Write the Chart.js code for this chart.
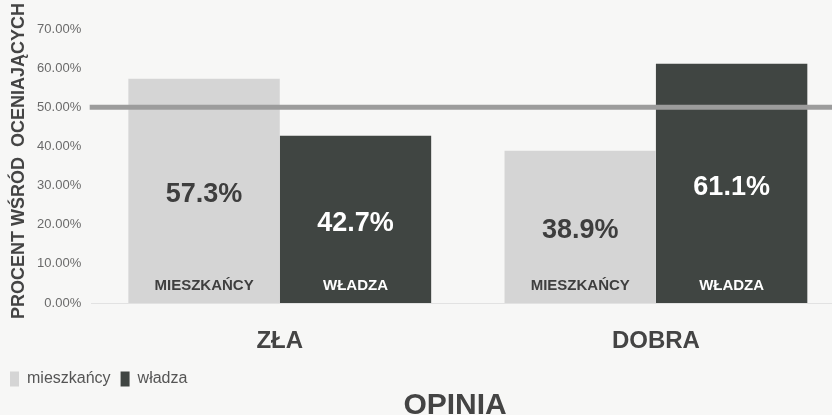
<!DOCTYPE html>
<html>
<head>
<meta charset="utf-8">
<script src="https://cdn.jsdelivr.net/npm/chart.js@4"></script>
<style>
  html, body { margin: 0; padding: 0; background: #f7f7f6; overflow: hidden; }
  #wrap { width: 844px; height: 415px; position: relative; }
</style>
</head>
<body>
<div id="wrap"><canvas id="opinia"></canvas></div>
<script>
// data
var categories = ['ZŁA', 'DOBRA'];
var seriesNames = ['mieszkańcy', 'władza'];
var barTags = ['MIESZKAŃCY', 'WŁADZA'];
var mieszkancy = [57.3, 38.9];
var wladza = [42.7, 61.1];
var refLine = 50;
var yTicksMax = 70;

var FONT = '"Liberation Sans", Arial, sans-serif';
var barColors = ['#d5d5d5', '#404542'];
var textColors = ['#3e3e3e', '#ffffff'];

const barLabels = {
  id: 'barLabels',
  afterLayout(chart) {
    // pull the legend up, closer to the category labels
    chart.legend.top -= 18;
    chart.legend.bottom -= 18;
  },
  afterDatasetsDraw(chart) {
    const ctx = chart.ctx;
    const area = chart.chartArea;
    const y50 = chart.scales.y.getPixelForValue(refLine);
    ctx.save();
    // grey 50% line
    ctx.strokeStyle = '#9c9c9c';
    ctx.lineWidth = 5;
    ctx.beginPath();
    ctx.moveTo(area.left - 2, y50);
    ctx.lineTo(chart.width, y50);
    ctx.stroke();

    ctx.textAlign = 'center';
    ctx.textBaseline = 'middle';
    chart.data.datasets.forEach((ds, di) => {
      chart.getDatasetMeta(di).data.forEach((bar, i) => {
        ctx.fillStyle = textColors[di];
        ctx.font = 'bold 27px ' + FONT;
        ctx.fillText(ds.data[i].toFixed(1) + '%', bar.x, (bar.y + bar.base) / 2 + 4);
        ctx.font = 'bold 15px ' + FONT;
        ctx.fillText(barTags[di], bar.x, bar.base - 17.5);
      });
    });

    // axis caption at the bottom
    ctx.fillStyle = '#444';
    ctx.font = 'bold 30px ' + FONT;
    ctx.fillText('OPINIA', area.left + (area.right - area.left) * 0.483, 406);
    ctx.restore();
  }
};

let chart = new Chart(document.getElementById('opinia'), {
  type: 'bar',
  data: {
    labels: categories,
    datasets: [
      { label: seriesNames[0], data: mieszkancy, backgroundColor: barColors[0] },
      { label: seriesNames[1], data: wladza, backgroundColor: barColors[1] }
    ]
  },
  options: {
    responsive: true,
    maintainAspectRatio: false,
    animation: false,
    categoryPercentage: 0.805,
    barPercentage: 1,
    layout: { padding: { top: 29, right: 0, bottom: 0, left: 0 } },
    scales: {
      x: {
        grid: { display: false, drawTicks: false },
        border: { display: true, color: '#e2e2e2' },
        ticks: {
          padding: 0,
          color: '#444',
          font: { family: FONT, size: 24, weight: 'bold', lineHeight: 76 / 24 }
        }
      },
      y: {
        min: 0,
        max: yTicksMax,
        grid: { display: false, drawTicks: false },
        border: { display: false },
        ticks: {
          stepSize: 10,
          padding: 10.5,
          color: '#6a6a6a',
          font: { family: FONT, size: 13 },
          callback: v => v.toFixed(2) + '%'
        },
        title: {
          display: true,
          text: '  PROCENT WŚRÓD  OCENIAJĄCYCH',
          color: '#444',
          padding: { top: 8, bottom: -3 },
          font: { family: FONT, size: 18, weight: 'bold' }
        }
      }
    },
    plugins: {
      tooltip: { enabled: false },
      legend: {
        position: 'bottom',
        align: 'start',
        labels: {
          boxWidth: 9,
          boxHeight: 15,
          padding: 10,
          color: '#555',
          font: { family: FONT, size: 16 }
        }
      }
    }
  },
  plugins: [barLabels]
});
</script>
</body>
</html>
